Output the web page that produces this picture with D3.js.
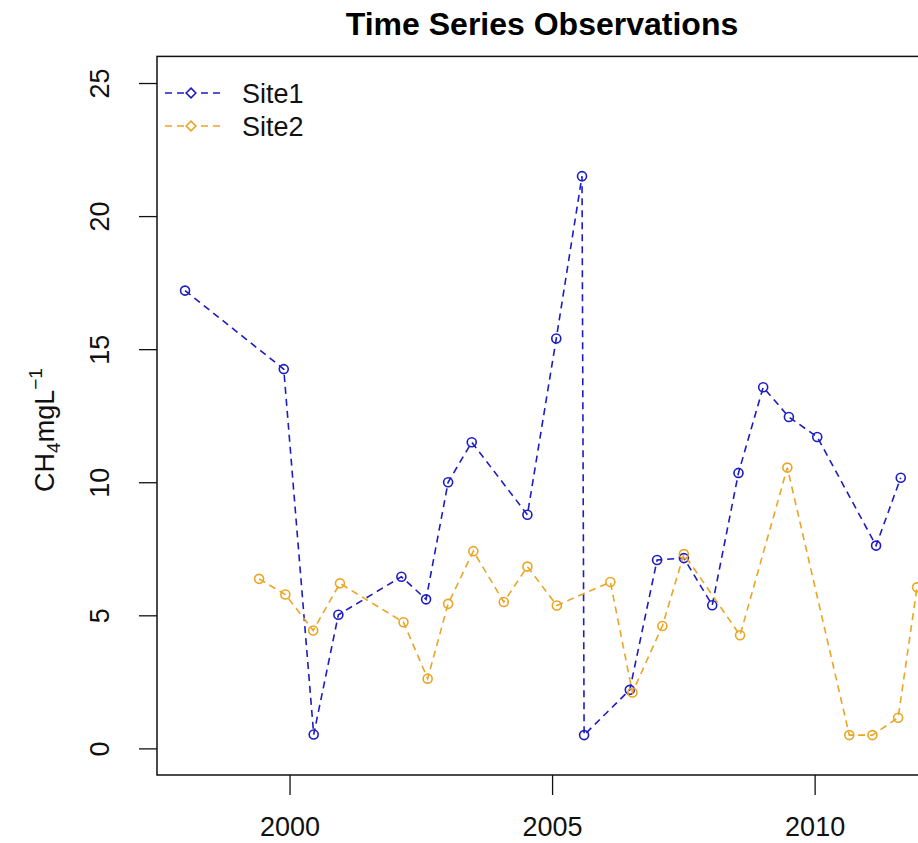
<!DOCTYPE html>
<html>
<head>
<meta charset="utf-8">
<script src="https://cdn.jsdelivr.net/npm/d3@7"></script>
<style>
  body { margin: 0; background: #fff; }
  svg { display: block; font-family: "Liberation Sans", Arial, sans-serif; }
</style>
</head>
<body>
<svg id="chart" width="918" height="843"></svg>
<script>
// ---- data (decimal years, CH4 mg/L) ----
const site1Years  = [1998.01, 1999.89, 2000.46, 2000.93, 2002.13, 2002.60, 2003.02, 2003.47, 2004.53, 2005.08, 2005.57, 2005.61, 2006.48, 2007.00, 2007.51, 2008.05, 2008.55, 2009.02, 2009.51, 2010.05, 2011.17, 2011.64];
const site1Values = [17.2, 14.25, 0.52, 5.02, 6.45, 5.6, 10.0, 11.5, 8.78, 15.4, 21.5, 0.5, 2.2, 7.08, 7.15, 5.38, 10.35, 13.57, 12.45, 11.7, 7.62, 10.17];
const site2Years  = [1999.42, 1999.92, 2000.45, 2000.96, 2002.17, 2002.63, 2003.02, 2003.50, 2004.08, 2004.53, 2005.09, 2006.11, 2006.53, 2007.10, 2007.51, 2008.58, 2009.48, 2010.66, 2011.10, 2011.59, 2011.95];
const site2Values = [6.37, 5.78, 4.43, 6.2, 4.74, 2.62, 5.43, 7.41, 5.5, 6.83, 5.37, 6.25, 2.1, 4.6, 7.3, 4.25, 10.55, 0.5, 0.5, 1.15, 6.05];
const seriesNames = ["Site1", "Site2"];
const seriesColors = ["#1c1cc4", "#eaa524"];
const xTicks = [2000, 2005, 2010];
const yTicks = [0, 5, 10, 15, 20, 25];

const svg = d3.select("#chart");
const pLeft = 157, pRight = 927, pTop = 56.4, pBottom = 775;

const x = d3.scaleLinear().domain([1997.476, 2012.14]).range([pLeft, pRight]);
const y = d3.scaleLinear().domain([-1, 26]).range([pBottom, pTop]);

// title
svg.append("text")
  .attr("x", (pLeft + pRight) / 2).attr("y", 35)
  .attr("text-anchor", "middle")
  .attr("font-size", 32).attr("font-weight", "bold")
  .text("Time Series Observations");

// clip
svg.append("clipPath").attr("id", "clip")
  .append("rect").attr("x", pLeft).attr("y", pTop).attr("width", pRight - pLeft).attr("height", pBottom - pTop);

// axes
const xAxis = svg.append("g").attr("transform", `translate(0,${pBottom})`)
  .call(d3.axisBottom(x).tickValues(xTicks).tickFormat(d3.format("d")).tickSize(20).tickPadding(22));
xAxis.select(".domain").remove();
xAxis.selectAll("text").attr("font-size", 27).attr("fill", "#111").attr("font-family", "Liberation Sans, Arial, sans-serif");
xAxis.selectAll("line").attr("stroke", "#111").attr("stroke-width", 1.3);

const yAxis = svg.append("g").attr("transform", `translate(${pLeft},0)`)
  .call(d3.axisLeft(y).tickValues(yTicks).tickSize(18).tickPadding(0));
yAxis.select(".domain").remove();
yAxis.selectAll("line").attr("stroke", "#111").attr("stroke-width", 1.3);
yAxis.selectAll("text")
  .attr("font-size", 27).attr("fill", "#111").attr("font-family", "Liberation Sans, Arial, sans-serif")
  .attr("text-anchor", "middle")
  .attr("x", 0).attr("dy", 0)
  .attr("transform", `translate(${109 - pLeft},0) rotate(-90)`);

// box (open on right: clipped by window)
svg.append("rect")
  .attr("x", pLeft).attr("y", pTop).attr("width", pRight - pLeft + 20).attr("height", pBottom - pTop)
  .attr("fill", "none").attr("stroke", "#111").attr("stroke-width", 1.5);

// y label
const yl = svg.append("text")
  .attr("transform", "translate(54,430) rotate(-90)")
  .attr("text-anchor", "middle")
  .attr("font-size", 27).attr("fill", "#111");
yl.append("tspan").text("CH");
yl.append("tspan").attr("font-size", 19).attr("dy", 6).text("4");
yl.append("tspan").attr("dy", -6).text("mgL");
yl.append("tspan").attr("font-size", 19).attr("dy", -12).text("\u22121");

// series
const plotG = svg.append("g").attr("clip-path", "url(#clip)");
const seriesData = [
  site1Years.map((t, i) => ({ t, v: site1Values[i] })),
  site2Years.map((t, i) => ({ t, v: site2Values[i] }))
];
const line = d3.line().x(d => x(d.t)).y(d => y(d.v));

seriesData.forEach((data, si) => {
  plotG.append("path")
    .datum(data)
    .attr("d", line)
    .attr("fill", "none")
    .attr("stroke", seriesColors[si])
    .attr("stroke-width", 1.6)
    .attr("stroke-dasharray", "7,5");
  plotG.selectAll(null).data(data).enter().append("circle")
    .attr("cx", d => x(d.t)).attr("cy", d => y(d.v)).attr("r", 4.5)
    .attr("fill", "none").attr("stroke", seriesColors[si]).attr("stroke-width", 1.6);
});

// legend
const legY = [93, 126];
seriesNames.forEach((name, i) => {
  const g = svg.append("g");
  g.append("line")
    .attr("x1", 165).attr("x2", 220).attr("y1", legY[i]).attr("y2", legY[i])
    .attr("stroke", seriesColors[i]).attr("stroke-width", 1.6).attr("stroke-dasharray", "7,5");
  g.append("path")
    .attr("d", d3.symbol(d3.symbolDiamond2, 60)())
    .attr("transform", `translate(191,${legY[i]})`)
    .attr("fill", "#fff").attr("stroke", seriesColors[i]).attr("stroke-width", 1.6);
  g.append("text")
    .attr("x", 242).attr("y", legY[i] + 10)
    .attr("font-size", 27).attr("fill", "#111")
    .text(name);
});
</script>
</body>
</html>
